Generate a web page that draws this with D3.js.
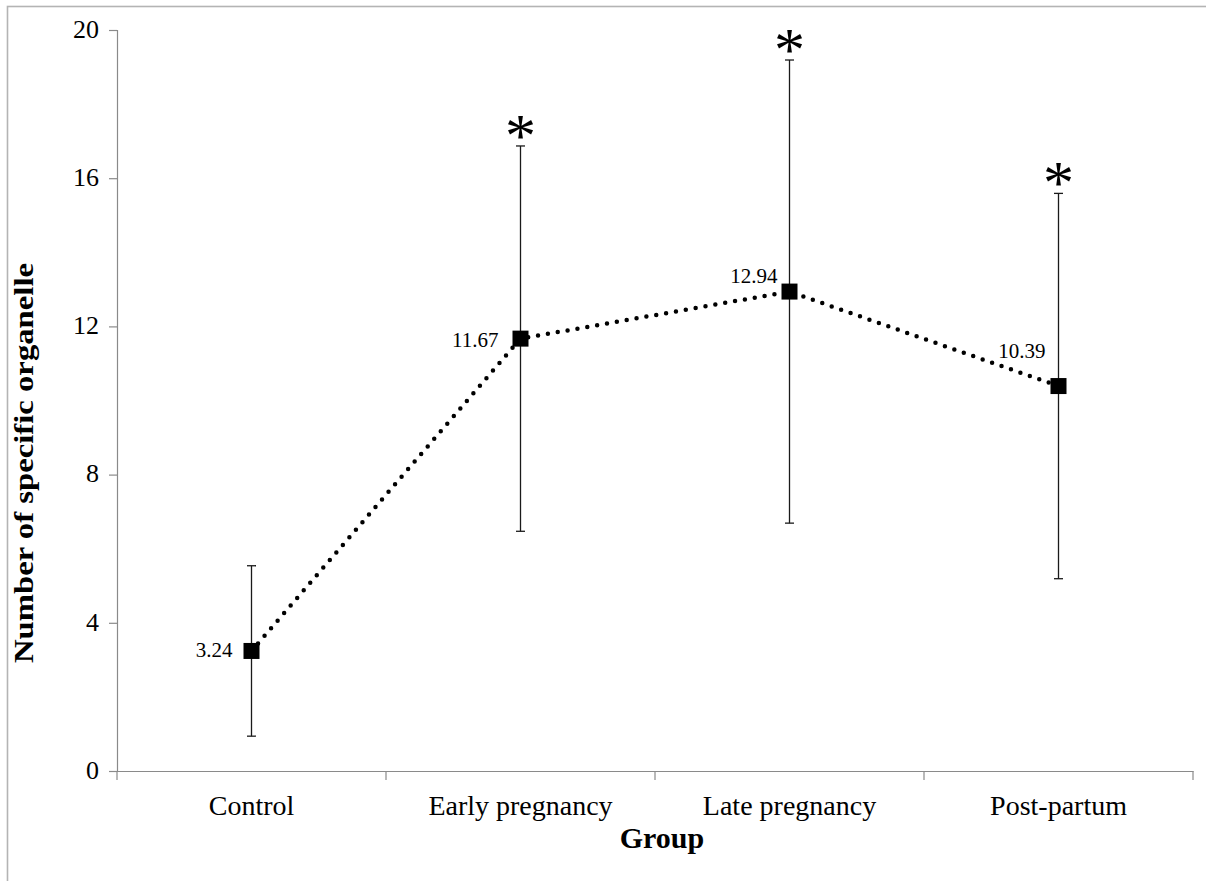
<!DOCTYPE html>
<html>
<head>
<meta charset="utf-8">
<script src="https://cdn.jsdelivr.net/npm/d3@7"></script>
<style>
  html, body { margin: 0; padding: 0; background: #fff; }
  svg { display: block; }
</style>
</head>
<body>
<svg id="chart" width="1206" height="881"></svg>
<script>
// ---- data ----
const categories = ["Control", "Early pregnancy", "Late pregnancy", "Post-partum"];
const means = [3.24, 11.67, 12.94, 10.39];
const errors = [2.30, 5.20, 6.25, 5.20];
const significant = [false, true, true, true];
const meanLabels = ["3.24", "11.67", "12.94", "10.39"];
const yTicks = [0, 4, 8, 12, 16, 20];
const xTitle = "Group";
const yTitle = "Number of specific organelle";

// ---- layout ----
const svg = d3.select("#chart");
const W = 1206, H = 881;
const plot = { left: 117, right: 1193, top: 30, bottom: 771 };
const serif = "'Liberation Serif', 'Times New Roman', serif";

// outer frame (partially visible)
svg.append("rect")
  .attr("x", 7.5).attr("y", 6.5)
  .attr("width", W + 50).attr("height", H + 50)
  .attr("fill", "none").attr("stroke", "#b4b4b4").attr("stroke-width", 1.6);

const x = d3.scaleBand().domain(categories).range([plot.left, plot.right]).padding(0);
const y = d3.scaleLinear().domain([0, 20]).range([plot.bottom, plot.top]);
const cx = c => x(c) + x.bandwidth() / 2;

const rows = categories.map((c, i) => ({
  cat: c, mean: means[i], err: errors[i], sig: significant[i], label: meanLabels[i], i
}));

// y axis
const yAxis = svg.append("g")
  .attr("transform", `translate(${plot.left},0)`)
  .call(d3.axisLeft(y).tickValues(yTicks).tickSize(8).tickPadding(10).tickFormat(d3.format("d")));
yAxis.select(".domain").attr("stroke", "#8a8a8a").attr("stroke-width", 1.2);
yAxis.selectAll(".tick line").attr("stroke", "#8a8a8a").attr("stroke-width", 1.2);
yAxis.selectAll(".tick text")
  .attr("font-family", serif).attr("font-size", 26).attr("fill", "#000")
  .attr("dy", "0.28em");

// x axis
const xAxis = svg.append("g")
  .attr("transform", `translate(0,${plot.bottom})`)
  .call(d3.axisBottom(x).tickSize(0).tickPadding(0));
xAxis.select(".domain").attr("stroke", "#8a8a8a").attr("stroke-width", 1.2);
xAxis.selectAll(".tick text")
  .attr("font-family", serif).attr("font-size", 28).attr("fill", "#000")
  .attr("dy", null).attr("y", 44);
// category boundary ticks
const bounds = categories.map(c => x(c)).concat([x(categories[categories.length - 1]) + x.bandwidth()]);
xAxis.selectAll(".bound").data(bounds).join("line")
  .attr("class", "bound")
  .attr("x1", d => d).attr("x2", d => d)
  .attr("y1", 0).attr("y2", 9)
  .attr("stroke", "#8a8a8a").attr("stroke-width", 1.2);

// axis titles
svg.append("text")
  .attr("x", (plot.left + plot.right) / 2 + 7).attr("y", 848)
  .attr("text-anchor", "middle")
  .attr("font-family", serif).attr("font-weight", "bold").attr("font-size", 30)
  .text(xTitle);

svg.append("text")
  .attr("transform", "translate(33,463) rotate(-90)")
  .attr("text-anchor", "middle")
  .attr("font-family", serif).attr("font-weight", "bold").attr("font-size", 27)
  .attr("textLength", 400).attr("lengthAdjust", "spacingAndGlyphs")
  .text(yTitle);

// error bars
const capHalf = 4.5;
const eb = svg.append("g").attr("stroke", "#1a1a1a").attr("stroke-width", 1.3);
eb.selectAll(".stem").data(rows).join("line")
  .attr("x1", d => cx(d.cat)).attr("x2", d => cx(d.cat))
  .attr("y1", d => y(d.mean + d.err)).attr("y2", d => y(d.mean - d.err));
eb.selectAll(".capTop").data(rows).join("line")
  .attr("x1", d => cx(d.cat) - capHalf).attr("x2", d => cx(d.cat) + capHalf)
  .attr("y1", d => y(d.mean + d.err)).attr("y2", d => y(d.mean + d.err));
eb.selectAll(".capBot").data(rows).join("line")
  .attr("x1", d => cx(d.cat) - capHalf).attr("x2", d => cx(d.cat) + capHalf)
  .attr("y1", d => y(d.mean - d.err)).attr("y2", d => y(d.mean - d.err));

// dotted line
const line = d3.line().x(d => cx(d.cat)).y(d => y(d.mean));
svg.append("path")
  .datum(rows)
  .attr("d", line)
  .attr("fill", "none")
  .attr("stroke", "#000")
  .attr("stroke-width", 4.5)
  .attr("stroke-linecap", "round")
  .attr("stroke-dasharray", "0 10");

// square markers
const ms = 16;
svg.selectAll(".marker").data(rows).join("rect")
  .attr("x", d => cx(d.cat) - ms / 2).attr("y", d => y(d.mean) - ms / 2)
  .attr("width", ms).attr("height", ms)
  .attr("fill", "#000");

// value labels (Excel-style manual placement)
const labelNudge = [[-19, 6], [-22, 8], [-12, -9], [-13, -28]];
svg.selectAll(".vlabel").data(rows).join("text")
  .attr("x", d => cx(d.cat) + labelNudge[d.i][0])
  .attr("y", d => y(d.mean) + labelNudge[d.i][1])
  .attr("text-anchor", "end")
  .attr("font-family", serif).attr("font-size", 21).attr("fill", "#000")
  .text(d => d.label);

// significance stars
svg.selectAll(".star").data(rows.filter(d => d.sig)).join("text")
  .attr("x", d => cx(d.cat))
  .attr("y", d => y(d.mean + d.err) + 10)
  .attr("text-anchor", "middle")
  .attr("font-family", serif).attr("font-size", 62).attr("fill", "#000")
  .text("*");
</script>
</body>
</html>
